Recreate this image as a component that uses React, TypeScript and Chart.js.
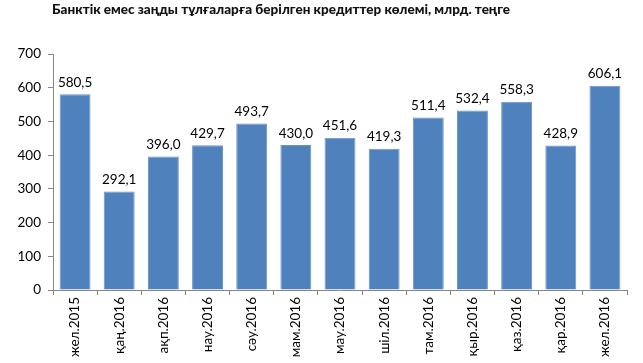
import React, { useEffect, useRef } from "react";
import { Chart, registerables } from "chart.js";

Chart.register(...registerables);

const title = "Банктік емес заңды тұлғаларға берілген кредиттер көлемі, млрд. теңге";
const categories = [
  "жел.2015", "қаң.2016", "ақп.2016", "нау.2016", "сәу.2016", "мам.2016", "мау.2016",
  "шіл.2016", "там.2016", "қыр.2016", "қаз.2016", "қар.2016", "жел.2016",
];
const values = [580.5, 292.1, 396.0, 429.7, 493.7, 430.0, 451.6, 419.3, 511.4, 532.4, 558.3, 428.9, 606.1];
const yTicks = [0, 100, 200, 300, 400, 500, 600, 700];

const FONT = "Lato, 'Noto Sans', sans-serif";

const labelPlugin = {
  id: "labels",
  afterDatasetsDraw(chart: any) {
    const ctx = chart.ctx;
    const meta = chart.getDatasetMeta(0);
    ctx.save();
    ctx.font = `13.5px ${FONT}`;
    ctx.fillStyle = "#000";
    ctx.textAlign = "center";
    ctx.textBaseline = "bottom";
    meta.data.forEach((bar: any, i: number) => {
      ctx.fillText(values[i].toFixed(1).replace(".", ","), bar.x, bar.y - 5);
    });
    ctx.font = `900 13.5px ${FONT}`;
    ctx.textAlign = "left";
    ctx.textBaseline = "middle";
    ctx.fillStyle = "#111";
    ctx.fillText(title, 52, 10);
    ctx.restore();
  },
};

export default function App() {
  const ref = useRef<HTMLCanvasElement>(null);
  useEffect(() => {
    const chart = new Chart(ref.current!, {
      type: "bar",
      data: {
        labels: categories,
        datasets: [
          {
            data: values,
            backgroundColor: "#4F81BD",
            borderColor: "#6A95C8",
            borderWidth: 1,
            barPercentage: 0.7,
            categoryPercentage: 1,
          },
        ],
      },
      options: {
        animation: false,
        responsive: false,
        maintainAspectRatio: false,
        layout: { padding: { top: 54, right: 16, left: 0, bottom: 0 } },
        plugins: { legend: { display: false }, title: { display: false }, tooltip: { enabled: false } },
        scales: {
          x: {
            grid: { display: true, drawOnChartArea: false, offset: true, tickLength: 5, color: "#868686" },
            border: { color: "#868686" },
            ticks: {
              minRotation: 90,
              maxRotation: 90,
              color: "#000",
              font: { family: FONT, size: 13.5 },
              padding: 2,
              autoSkip: false,
            },
            afterFit(scale: any) {
              scale.height = 73;
            },
          },
          y: {
            min: 0,
            max: 700,
            afterBuildTicks(scale: any) {
              scale.ticks = yTicks.map((v) => ({ value: v }));
            },
            grid: { display: true, drawOnChartArea: false, tickLength: 5, color: "#868686" },
            border: { color: "#868686" },
            ticks: { color: "#000", font: { family: FONT, size: 13.5 }, padding: 7 },
            afterFit(scale: any) {
              scale.width = 53;
            },
          },
        },
      },
      plugins: [labelPlugin],
    });
    return () => chart.destroy();
  }, []);
  return (
    <div style={{ position: "fixed", left: 0, top: 0, width: 643, height: 363, background: "#fff" }}>
      <canvas ref={ref} width={643} height={363} style={{ width: 643, height: 363 }} />
    </div>
  );
}
